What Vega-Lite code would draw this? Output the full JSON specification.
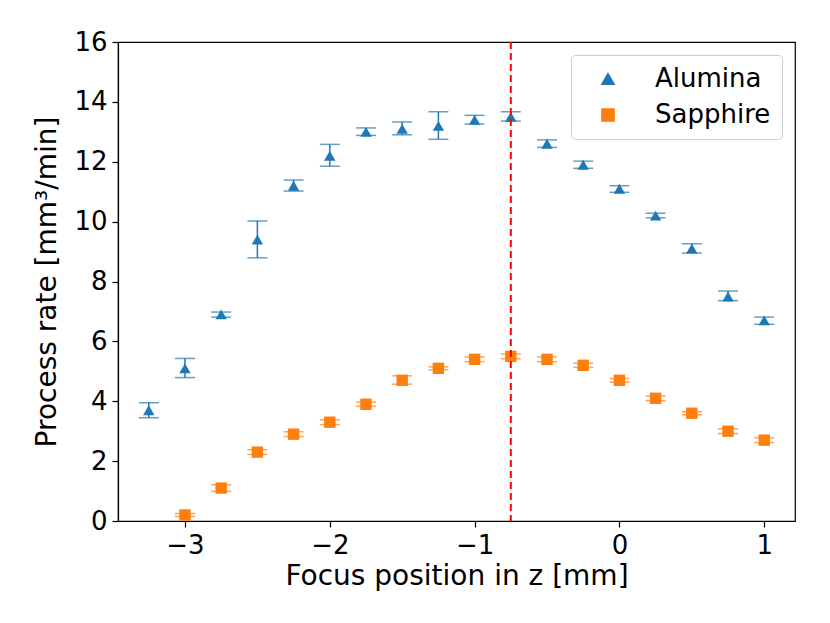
{
  "$schema": "https://vega.github.io/schema/vega-lite/v6.json",
  "width": 677,
  "height": 479,
  "autosize": {"type": "none"},
  "padding": {"left": 118, "top": 42, "right": 35, "bottom": 102},
  "background": "white",
  "datasets": {
    "rates": [
      {"material": "Alumina", "z": -3.25, "rate": 3.7, "lo": 3.45, "hi": 3.95},
      {"material": "Alumina", "z": -3.0, "rate": 5.1, "lo": 4.79, "hi": 5.43},
      {"material": "Alumina", "z": -2.75, "rate": 6.9, "lo": 6.81, "hi": 6.98},
      {"material": "Alumina", "z": -2.5, "rate": 9.4, "lo": 8.79, "hi": 10.02},
      {"material": "Alumina", "z": -2.25, "rate": 11.2, "lo": 11.02, "hi": 11.39},
      {"material": "Alumina", "z": -2.0, "rate": 12.2, "lo": 11.85, "hi": 12.58},
      {"material": "Alumina", "z": -1.75, "rate": 13.0, "lo": 12.88, "hi": 13.13},
      {"material": "Alumina", "z": -1.5, "rate": 13.1, "lo": 12.9, "hi": 13.33},
      {"material": "Alumina", "z": -1.25, "rate": 13.2, "lo": 12.75, "hi": 13.67},
      {"material": "Alumina", "z": -1.0, "rate": 13.4, "lo": 13.26, "hi": 13.55},
      {"material": "Alumina", "z": -0.75, "rate": 13.5, "lo": 13.36, "hi": 13.67},
      {"material": "Alumina", "z": -0.5, "rate": 12.6, "lo": 12.48, "hi": 12.73},
      {"material": "Alumina", "z": -0.25, "rate": 11.9, "lo": 11.78, "hi": 12.02},
      {"material": "Alumina", "z": 0.0, "rate": 11.1, "lo": 10.98, "hi": 11.2},
      {"material": "Alumina", "z": 0.25, "rate": 10.2, "lo": 10.13, "hi": 10.28},
      {"material": "Alumina", "z": 0.5, "rate": 9.1, "lo": 8.95, "hi": 9.26},
      {"material": "Alumina", "z": 0.75, "rate": 7.5, "lo": 7.36, "hi": 7.68},
      {"material": "Alumina", "z": 1.0, "rate": 6.7, "lo": 6.57, "hi": 6.81},
      {"material": "Sapphire", "z": -3.0, "rate": 0.2, "lo": 0.15, "hi": 0.25},
      {"material": "Sapphire", "z": -2.75, "rate": 1.1, "lo": 0.99, "hi": 1.21},
      {"material": "Sapphire", "z": -2.5, "rate": 2.3, "lo": 2.22, "hi": 2.38},
      {"material": "Sapphire", "z": -2.25, "rate": 2.9, "lo": 2.82, "hi": 2.98},
      {"material": "Sapphire", "z": -2.0, "rate": 3.3, "lo": 3.22, "hi": 3.38},
      {"material": "Sapphire", "z": -1.75, "rate": 3.9, "lo": 3.83, "hi": 3.97},
      {"material": "Sapphire", "z": -1.5, "rate": 4.7, "lo": 4.57, "hi": 4.85},
      {"material": "Sapphire", "z": -1.25, "rate": 5.1, "lo": 5.05, "hi": 5.15},
      {"material": "Sapphire", "z": -1.0, "rate": 5.4, "lo": 5.32, "hi": 5.48},
      {"material": "Sapphire", "z": -0.75, "rate": 5.5, "lo": 5.42, "hi": 5.58},
      {"material": "Sapphire", "z": -0.5, "rate": 5.4, "lo": 5.32, "hi": 5.48},
      {"material": "Sapphire", "z": -0.25, "rate": 5.2, "lo": 5.13, "hi": 5.27},
      {"material": "Sapphire", "z": 0.0, "rate": 4.7, "lo": 4.64, "hi": 4.76},
      {"material": "Sapphire", "z": 0.25, "rate": 4.1, "lo": 4.02, "hi": 4.18},
      {"material": "Sapphire", "z": 0.5, "rate": 3.6, "lo": 3.55, "hi": 3.65},
      {"material": "Sapphire", "z": 0.75, "rate": 3.0, "lo": 2.92, "hi": 3.08},
      {"material": "Sapphire", "z": 1.0, "rate": 2.7, "lo": 2.62, "hi": 2.78}
    ],
    "focus": [{"z": -0.75}]
  },
  "data": {"name": "rates"},
  "encoding": {
    "x": {
      "field": "z",
      "type": "quantitative",
      "title": "Focus position in z [mm]",
      "scale": {"domain": [-3.4625, 1.2125], "nice": false, "zero": false},
      "axis": {"values": [-3, -2, -1, 0, 1], "format": "d"}
    },
    "color": {
      "field": "material",
      "type": "nominal",
      "scale": {"domain": ["Alumina", "Sapphire"], "range": ["#1f77b4", "#ff7f0e"]},
      "legend": {
        "title": null,
        "orient": "top-right",
        "offset": 13,
        "padding": 11,
        "fillColor": "white",
        "strokeColor": "#cccccc",
        "cornerRadius": 4,
        "labelFontSize": 26,
        "labelFont": "DejaVu Sans",
        "symbolSize": 150,
        "symbolOpacity": 1,
        "symbolOffset": 13,
        "labelOffset": 34,
        "rowPadding": 10
      }
    }
  },
  "layer": [
    {
      "mark": {"type": "rule", "strokeWidth": 1.5},
      "encoding": {
        "y": {
          "field": "lo",
          "type": "quantitative",
          "title": "Process rate [mm³/min]",
          "scale": {"domain": [0, 16], "nice": false},
          "axis": {"values": [0, 2, 4, 6, 8, 10, 12, 14, 16]}
        },
        "y2": {"field": "hi"}
      }
    },
    {
      "mark": {"type": "tick", "orient": "horizontal", "size": 20, "thickness": 1.5},
      "encoding": {"y": {"field": "lo", "type": "quantitative"}}
    },
    {
      "mark": {"type": "tick", "orient": "horizontal", "size": 20, "thickness": 1.5},
      "encoding": {"y": {"field": "hi", "type": "quantitative"}}
    },
    {
      "mark": {"type": "point", "filled": true, "opacity": 1},
      "encoding": {
        "y": {"field": "rate", "type": "quantitative"},
        "shape": {
          "field": "material",
          "type": "nominal",
          "scale": {"domain": ["Alumina", "Sapphire"], "range": ["triangle-up", "square"]},
          "legend": null
        },
        "size": {"value": 130}
      }
    },
    {
      "data": {"name": "focus"},
      "mark": {"type": "rule", "color": "#ff0000", "strokeWidth": 2, "strokeDash": [7, 4]},
      "encoding": {"x": {"field": "z", "type": "quantitative"}, "color": {"value": "#ff0000"}}
    }
  ],
  "config": {
    "font": "DejaVu Sans",
    "view": {"stroke": "black", "strokeWidth": 1.2},
    "axis": {
      "grid": false,
      "domainColor": "black",
      "domainWidth": 1.2,
      "tickColor": "black",
      "tickSize": 6,
      "tickWidth": 1.2,
      "labelFont": "DejaVu Sans",
      "labelFontSize": 26,
      "labelColor": "black",
      "labelPadding": 5,
      "titleFont": "DejaVu Sans",
      "titleFontSize": 28,
      "titleFontWeight": "normal",
      "titleColor": "black"
    },
    "axisX": {"titlePadding": 4},
    "axisY": {"titlePadding": 12}
  }
}
